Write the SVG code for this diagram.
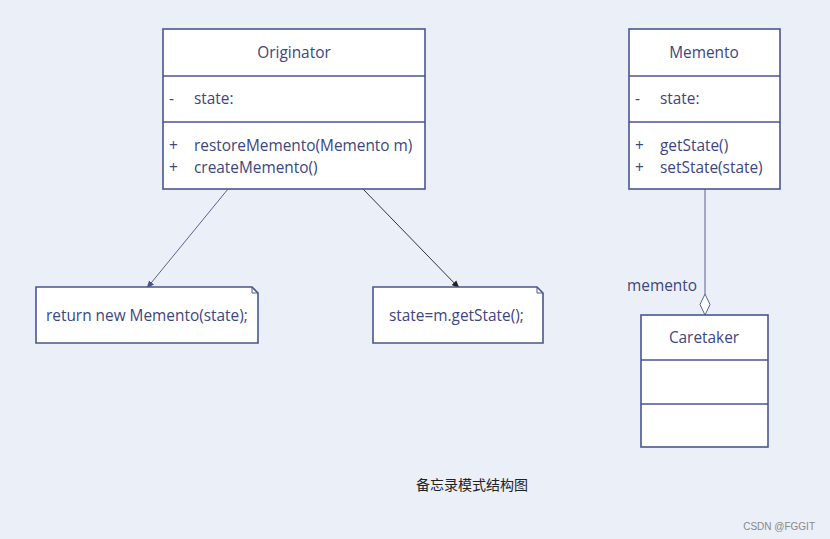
<svg xmlns="http://www.w3.org/2000/svg" width="830" height="539" viewBox="0 0 830 539">
<style>
.b{fill:#fff;stroke:#4a5590;stroke-width:1.6}
.t{font-family:"Open Sans","Noto Sans",sans-serif;font-size:15.4px;fill:#3c4680}
.c{stroke:#5a6290;stroke-width:1;fill:none}
</style>
<defs>
<marker id="a" viewBox="0 0 10 10" refX="9" refY="5" markerWidth="8" markerHeight="8" orient="auto"><path d="M0,1 L10,5 L0,9 z" fill="#4a5590"/></marker>
<marker id="k" viewBox="0 0 10 10" refX="9" refY="5" markerWidth="8" markerHeight="8" orient="auto"><path d="M0,1 L10,5 L0,9 z" fill="#222"/></marker>
</defs>
<rect width="830" height="539" fill="#ebeff8"/>
<g id="connectors">
<line class="c" x1="228" y1="189" x2="147" y2="288" marker-end="url(#a)"/>
<line x1="363" y1="189" x2="459" y2="288" stroke="#333" stroke-width="1" marker-end="url(#k)"/>
<line class="c" x1="705" y1="189" x2="705" y2="294"/>
<path d="M705,294 L710,304.5 L705,315 L700,304.5 Z" fill="#fff" stroke="#5a6290"/>
<text class="t" x="627" y="291">memento</text>
</g>
<g id="originator">
<rect class="b" x="163" y="29" width="262" height="160"/>
<line class="b" x1="163" y1="76" x2="425" y2="76"/>
<line class="b" x1="163" y1="122" x2="425" y2="122"/>
<text class="t" x="294" y="58" text-anchor="middle">Originator</text>
<text class="t" x="169" y="104">-</text><text class="t" x="194" y="104">state:</text>
<text class="t" x="169" y="151">+</text><text class="t" x="194" y="151">restoreMemento(Memento m)</text>
<text class="t" x="169" y="173">+</text><text class="t" x="194" y="173">createMemento()</text>
</g>
<g id="memento">
<rect class="b" x="629" y="29" width="151" height="160"/>
<line class="b" x1="629" y1="76" x2="780" y2="76"/>
<line class="b" x1="629" y1="122" x2="780" y2="122"/>
<text class="t" x="704" y="58" text-anchor="middle">Memento</text>
<text class="t" x="635" y="104">-</text><text class="t" x="660" y="104">state:</text>
<text class="t" x="635" y="151">+</text><text class="t" x="660" y="151">getState()</text>
<text class="t" x="635" y="173">+</text><text class="t" x="660" y="173">setState(state)</text>
</g>
<g id="caretaker">
<rect class="b" x="641" y="315" width="127" height="132"/>
<line class="b" x1="641" y1="360" x2="768" y2="360"/>
<line class="b" x1="641" y1="404" x2="768" y2="404"/>
<text class="t" x="704" y="343" text-anchor="middle">Caretaker</text>
</g>
<g id="note1">
<path class="b" d="M36,287 H252 L258,293 V343 H36 Z"/>
<path d="M252,287 V293 H258" fill="none" stroke="#4a5590"/>
<text class="t" x="46" y="321">return new Memento(state);</text>
</g>
<g id="note2">
<path class="b" d="M373,287 H537 L543,293 V343 H373 Z"/>
<path d="M537,287 V293 H543" fill="none" stroke="#4a5590"/>
<text class="t" x="389" y="321">state=m.getState();</text>
</g>
<text x="472" y="490" text-anchor="middle" font-family="Noto Sans CJK SC,sans-serif" font-size="14" fill="#222">备忘录模式结构图</text>
<text x="815" y="530" text-anchor="end" font-family="Liberation Sans,sans-serif" font-size="10" fill="#888">CSDN @FGGIT</text>
</svg>
